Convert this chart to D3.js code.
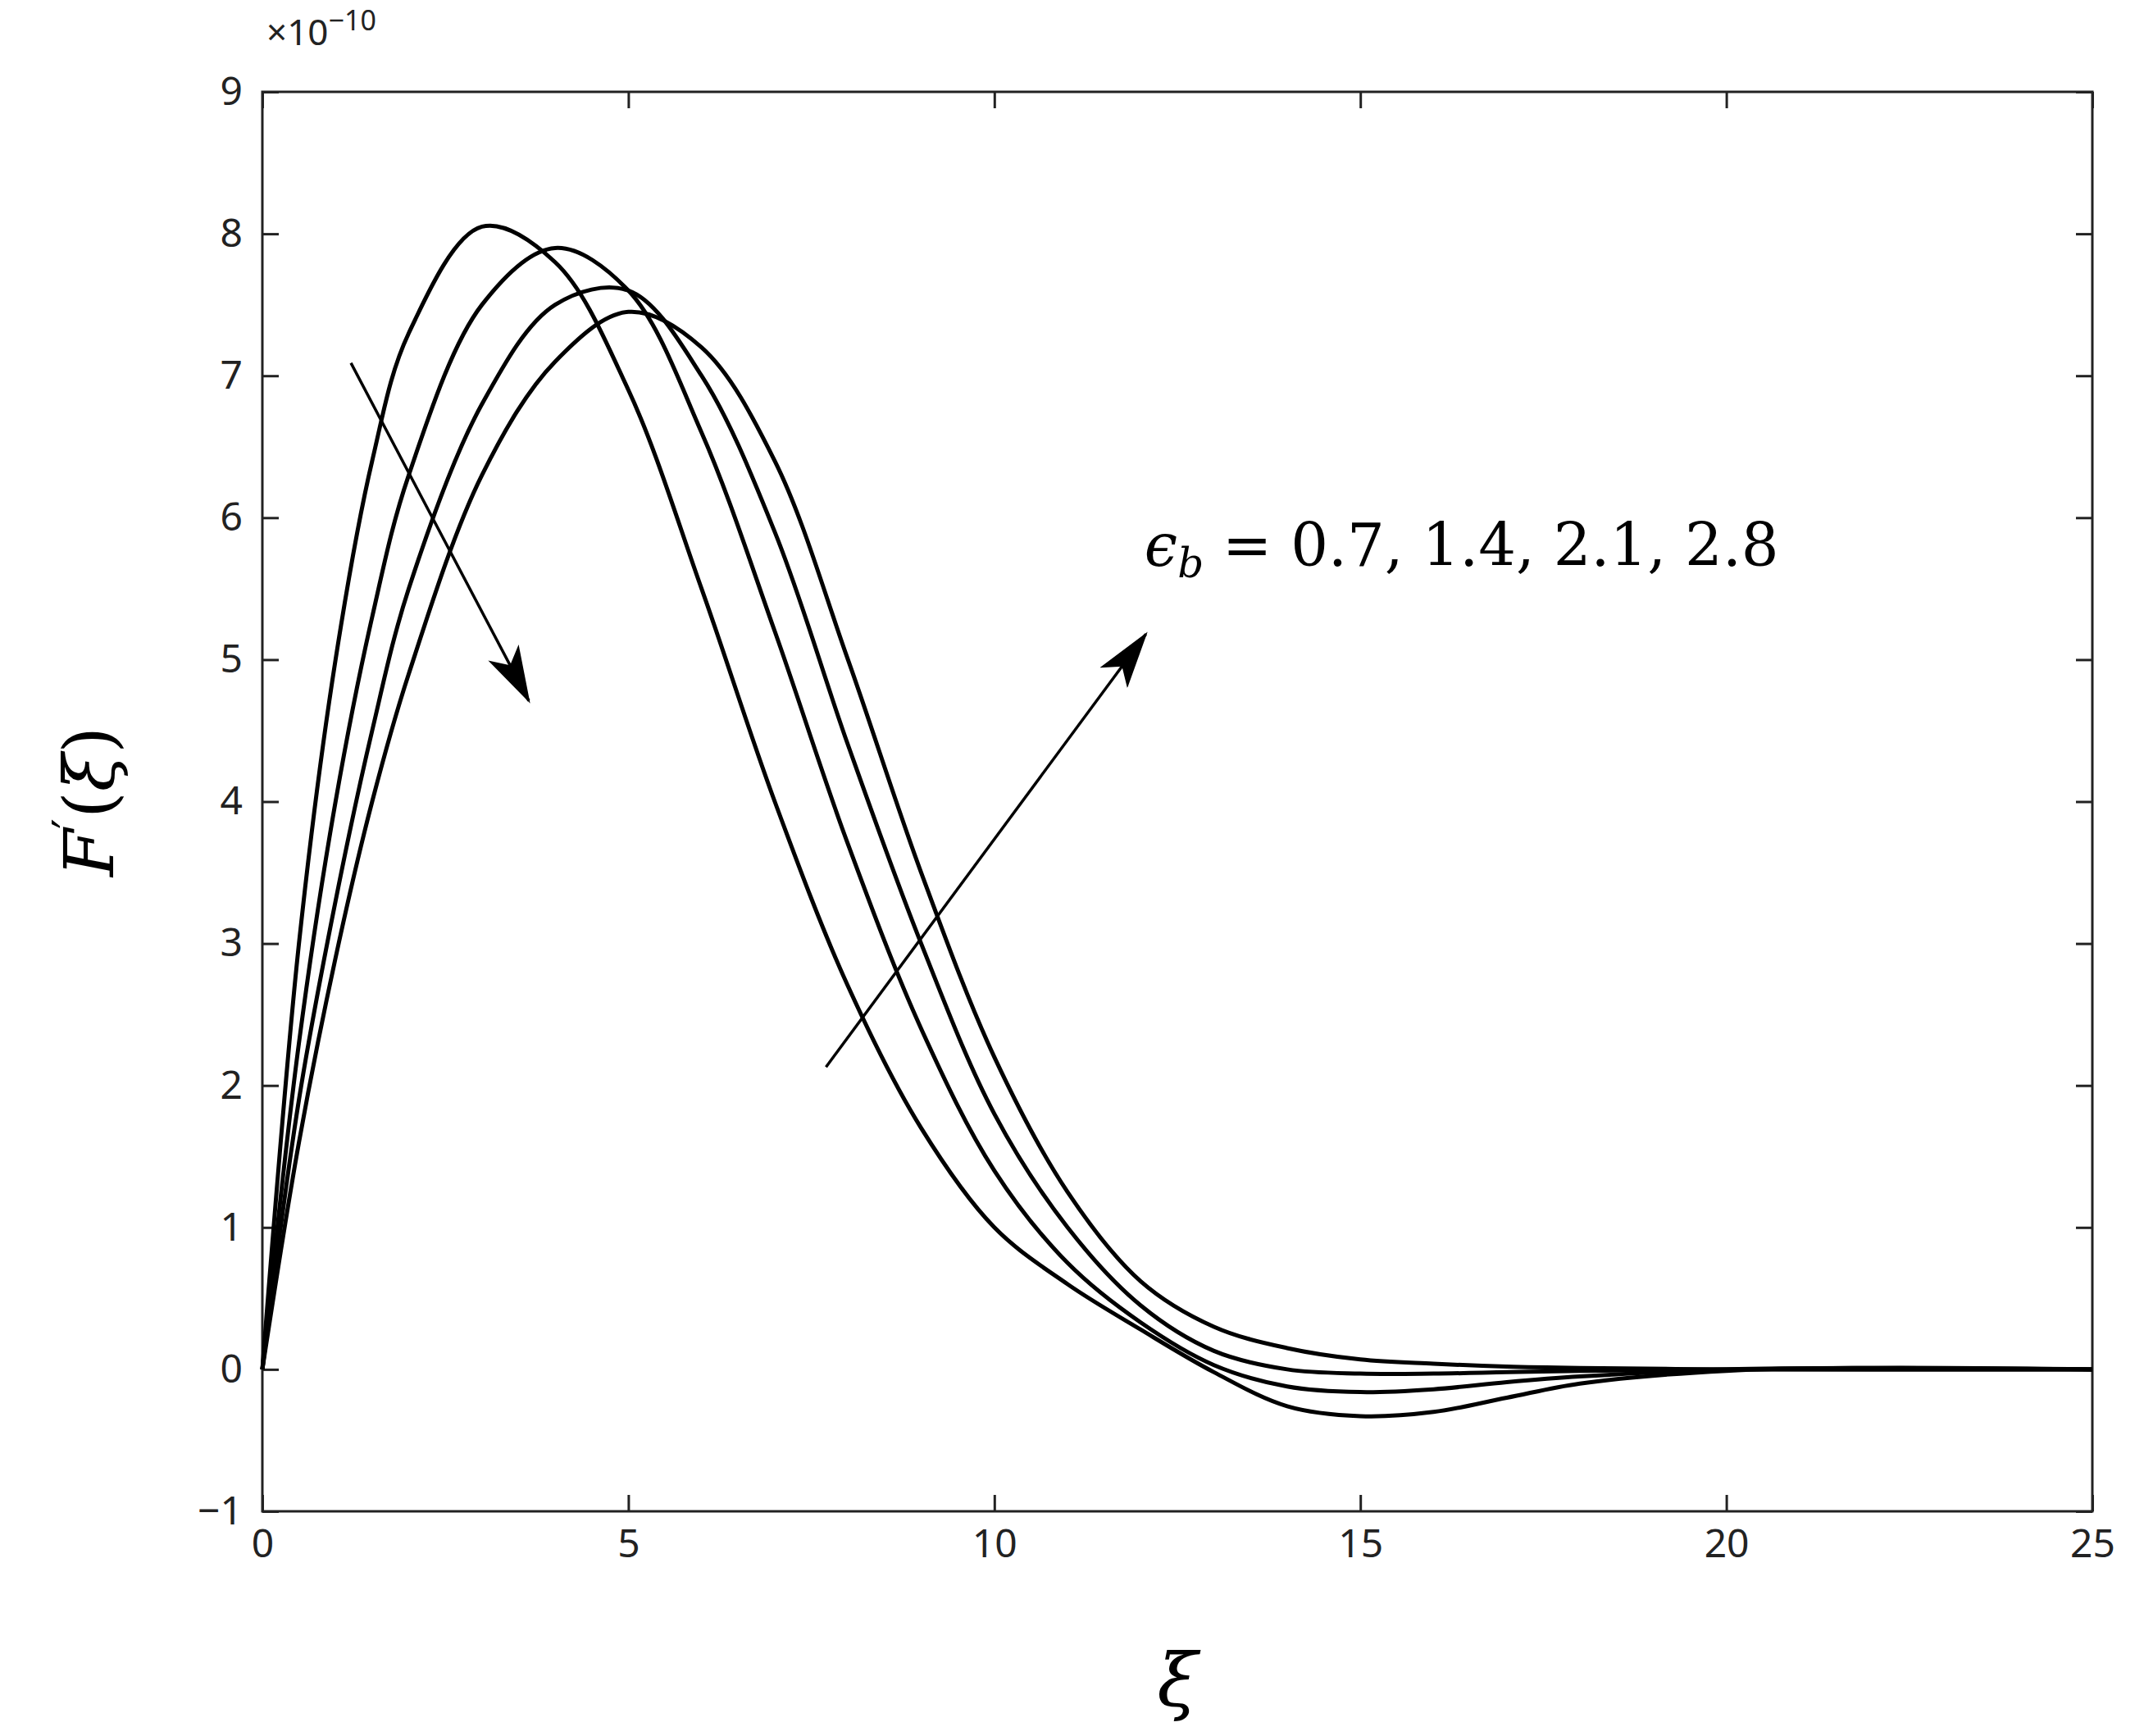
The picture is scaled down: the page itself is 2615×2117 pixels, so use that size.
<!DOCTYPE html>
<html><head><meta charset="utf-8">
<script src="https://cdn.jsdelivr.net/npm/d3@7"></script>
<style>body{margin:0;background:#fff}</style>
</head><body><svg id="c" width="2615" height="2117"></svg>
<script>
// sampled xi positions and F'(xi) values (x1e-10) per epsilon_b
var xs = [0, 0.5, 1, 1.5, 2, 3, 4, 5, 6, 7, 8, 9, 10, 11, 12, 13, 14, 15, 16, 17, 18, 20, 22, 25];
var eps07 = [0, 3.0, 5.0, 6.4, 7.3, 8.05, 7.8, 6.9, 5.5, 4.0, 2.7, 1.7, 1.0, 0.6, 0.28, -0.02, -0.26, -0.33, -0.3, -0.2, -0.1, -0.01, 0.01, 0];
var eps14 = [0, 2.3, 4.0, 5.3, 6.3, 7.5, 7.9, 7.6, 6.6, 5.2, 3.7, 2.4, 1.4, 0.75, 0.33, 0.03, -0.12, -0.16, -0.14, -0.09, -0.05, 0, 0.01, 0];
var eps21 = [0, 1.9, 3.3, 4.5, 5.5, 6.8, 7.5, 7.6, 7.0, 5.9, 4.4, 3.0, 1.8, 1.0, 0.45, 0.13, 0.0, -0.03, -0.03, -0.02, -0.01, 0, 0, 0];
var eps28 = [0, 1.6, 2.9, 4.0, 4.9, 6.3, 7.1, 7.45, 7.2, 6.4, 5.0, 3.5, 2.2, 1.25, 0.62, 0.3, 0.15, 0.07, 0.04, 0.02, 0.01, 0, 0, 0];
var series = [eps07, eps14, eps21, eps28];
var xTicks = [0, 5, 10, 15, 20, 25];
var yTicks = [-1, 0, 1, 2, 3, 4, 5, 6, 7, 8, 9];

var L = 320, R = 2552, T = 112, B = 1843;
var svg = d3.select('#c');
var x = d3.scaleLinear().domain([0, 25]).range([L, R]);
var y = d3.scaleLinear().domain([-1, 9]).range([B, T]);
var font = '"Noto Sans", sans-serif';

function axis(a, tx, ty, labels) {
    var g = svg.append('g').attr('transform', 'translate(' + tx + ',' + ty + ')').call(a);
    g.select('.domain').remove();
    g.selectAll('line').attr('stroke', '#222').attr('stroke-width', 3);
    g.selectAll('text').attr('font-family', font).attr('font-size', 48).attr('fill', '#222');
    if (!labels) { g.selectAll('text').remove(); }
    return g;
}
var fmt = function (d) { return d < 0 ? '\u2212' + (-d) : d; };
axis(d3.axisBottom(x).tickValues(xTicks).tickSize(-20).tickPadding(22).tickFormat(fmt), 0, B, true);
axis(d3.axisTop(x).tickValues(xTicks).tickSize(-20), 0, T, false);
axis(d3.axisLeft(y).tickValues(yTicks).tickSize(-20).tickPadding(24).tickFormat(fmt), L, 0, true);
axis(d3.axisRight(y).tickValues(yTicks).tickSize(-20), R, 0, false);

svg.append('rect').attr('x', L).attr('y', T).attr('width', R - L).attr('height', B - T)
    .attr('fill', 'none').attr('stroke', '#222').attr('stroke-width', 3);

var line = d3.line().x(function (d, i) { return x(xs[i]); }).y(function (d) { return y(d); })
    .curve(d3.curveCatmullRom.alpha(0.5));
series.forEach(function (s) {
    svg.append('path').attr('d', line(s)).attr('fill', 'none').attr('stroke', '#000').attr('stroke-width', 5);
});

// arrows
svg.append('defs').append('marker').attr('id', 'ah').attr('viewBox', '0 0 20 12')
    .attr('refX', 19).attr('refY', 6).attr('markerWidth', 20).attr('markerHeight', 12)
    .attr('markerUnits', 'userSpaceOnUse').attr('orient', 'auto')
    .append('path').attr('d', 'M0,0 L20,6 L0,12 L5,6 Z').attr('fill', '#000');
svg.select('marker').attr('markerWidth', 70).attr('markerHeight', 42).attr('markerUnits', 'userSpaceOnUse')
    .attr('viewBox', '0 0 20 12');
[[1.21, 7.09, 3.64, 4.71], [7.70, 2.13, 12.07, 5.18]].forEach(function (a) {
    svg.append('line').attr('x1', x(a[0])).attr('y1', y(a[1])).attr('x2', x(a[2])).attr('y2', y(a[3]))
        .attr('stroke', '#000').attr('stroke-width', 3.5).attr('marker-end', 'url(#ah)');
});

var serif = '"DejaVu Serif", "Liberation Serif", serif';
var t = svg.append('text').attr('x', x(12.05)).attr('y', y(5.66)).attr('font-family', serif).attr('font-size', 72);
t.append('tspan').attr('font-style', 'italic').text('\u03f5');
t.append('tspan').attr('font-style', 'italic').attr('font-size', 50).attr('dy', 14).text('b');
t.append('tspan').attr('dy', -14).text(' = 0.7, 1.4, 2.1, 2.8');

svg.append('text').attr('x', (L + R) / 2).attr('y', 2080).attr('text-anchor', 'middle')
    .attr('font-family', serif).attr('font-style', 'italic').attr('font-size', 90).text('\u03be');
var yl = svg.append('text').attr('transform', 'translate(138,' + ((T + B) / 2) + ') rotate(-90)')
    .attr('text-anchor', 'middle').attr('font-family', serif).attr('font-size', 84);
yl.append('tspan').attr('font-style', 'italic').text('F');
yl.append('tspan').attr('font-size', 56).attr('dy', -34).text('\u2032');
yl.append('tspan').attr('dy', 34).text('(');
yl.append('tspan').attr('font-style', 'italic').text('\u03be');
yl.append('tspan').text(')');

var e = svg.append('text').attr('x', 325).attr('y', 55).attr('font-family', font).attr('font-size', 44).attr('fill', '#222');
e.append('tspan').text('\u00d710');
e.append('tspan').attr('font-size', 34).attr('dy', -18).text('\u221210');
</script></body></html>
